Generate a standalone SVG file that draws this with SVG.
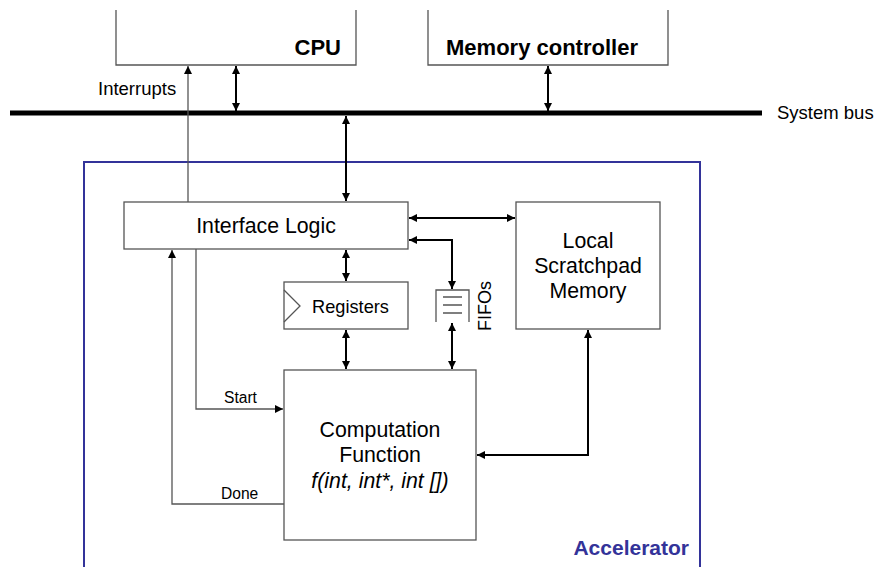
<svg xmlns="http://www.w3.org/2000/svg" width="876" height="567" viewBox="0 0 876 567">
<defs>
<marker id="ah" viewBox="0 0 10 10" refX="10" refY="5" markerWidth="8" markerHeight="8" markerUnits="userSpaceOnUse" orient="auto-start-reverse">
<path d="M0,0 L10,5 L0,10 z" fill="#000"/>
</marker>
<style>
text{font-family:"Liberation Sans",Arial,sans-serif;fill:#000}
.box{fill:#fff;stroke:#555;stroke-width:1.3}
.data{fill:none;stroke:#000;stroke-width:2}
.ctl{fill:none;stroke:#555;stroke-width:1.3}
.lbl{font-size:21.3px;text-anchor:middle}
.bold{font-weight:bold;font-size:22px}
.sm{font-size:15.6px}
.md{font-size:18.5px}
</style>
</defs>
<rect width="876" height="567" fill="#fff"/>

<g id="cpu">
<path class="box" d="M116,10 V65 H356 V10"/>
<text class="bold" x="341" y="55" text-anchor="end">CPU</text>
</g>
<g id="memctrl">
<path class="box" d="M428,10 V65 H668 V10"/>
<text class="bold" x="542" y="55" text-anchor="middle">Memory controller</text>
</g>
<g id="sysbus">
<line x1="10" y1="113" x2="762" y2="113" stroke="#000" stroke-width="5"/>
<text class="md" x="777" y="119">System bus</text>
</g>
<g id="accelerator">
<path d="M84,567 V162 H700 V567" fill="none" stroke="#333399" stroke-width="2"/>
<text x="689" y="555" font-size="21" font-weight="bold" text-anchor="end" style="fill:#333399">Accelerator</text>
</g>
<g id="interface">
<rect class="box" x="124" y="202" width="284" height="47"/>
<text class="lbl" x="266" y="233">Interface Logic</text>
</g>
<g id="scratchpad">
<rect class="box" x="516" y="202" width="144" height="127"/>
<text class="lbl" x="588" y="248">Local</text>
<text class="lbl" x="588" y="273">Scratchpad</text>
<text class="lbl" x="588" y="298">Memory</text>
</g>
<g id="registers">
<rect class="box" x="284" y="282" width="124" height="47"/>
<path class="ctl" d="M284,290 L300,306 L284,322"/>
<text x="350.5" y="313" font-size="18.2" text-anchor="middle">Registers</text>
</g>
<g id="fifos">
<path class="ctl" d="M436,322 V290 H469 V322"/>
<path class="ctl" d="M443,297 H462 M443,305 H462 M443,313 H462"/>
<text x="491" y="306" font-size="18" text-anchor="middle" transform="rotate(-90 491 306)">FIFOs</text>
</g>
<g id="computation">
<rect class="box" x="284" y="370" width="192" height="170"/>
<text class="lbl" x="380" y="437">Computation</text>
<text class="lbl" x="380" y="462">Function</text>
<text class="lbl" x="380" y="488" font-style="italic">f(int, int*, int [])</text>
</g>

<g id="connectors">
<line class="ctl" x1="188" y1="202" x2="188" y2="66" marker-end="url(#ah)"/>
<text class="md" x="98" y="95">Interrupts</text>
<line class="data" x1="236" y1="66" x2="236" y2="111" marker-start="url(#ah)" marker-end="url(#ah)"/>
<line class="data" x1="548" y1="66" x2="548" y2="111" marker-start="url(#ah)" marker-end="url(#ah)"/>
<line class="data" x1="346" y1="116" x2="346" y2="201" marker-start="url(#ah)" marker-end="url(#ah)"/>
<line class="data" x1="409" y1="218" x2="515" y2="218" marker-start="url(#ah)" marker-end="url(#ah)"/>
<path class="data" d="M409,240 H452 V289" marker-start="url(#ah)" marker-end="url(#ah)"/>
<line class="data" x1="346" y1="250" x2="346" y2="281" marker-start="url(#ah)" marker-end="url(#ah)"/>
<line class="data" x1="346" y1="330" x2="346" y2="369" marker-start="url(#ah)" marker-end="url(#ah)"/>
<line class="data" x1="452" y1="323" x2="452" y2="369" marker-start="url(#ah)" marker-end="url(#ah)"/>
<path class="data" d="M588,330 V455 H477" marker-start="url(#ah)" marker-end="url(#ah)"/>
<path class="ctl" d="M196,249 V409 H283" marker-end="url(#ah)"/>
<text class="sm" x="224" y="403">Start</text>
<path class="ctl" d="M284,504 H172 V250" marker-end="url(#ah)"/>
<text class="sm" x="221" y="499">Done</text>
</g>
</svg>
